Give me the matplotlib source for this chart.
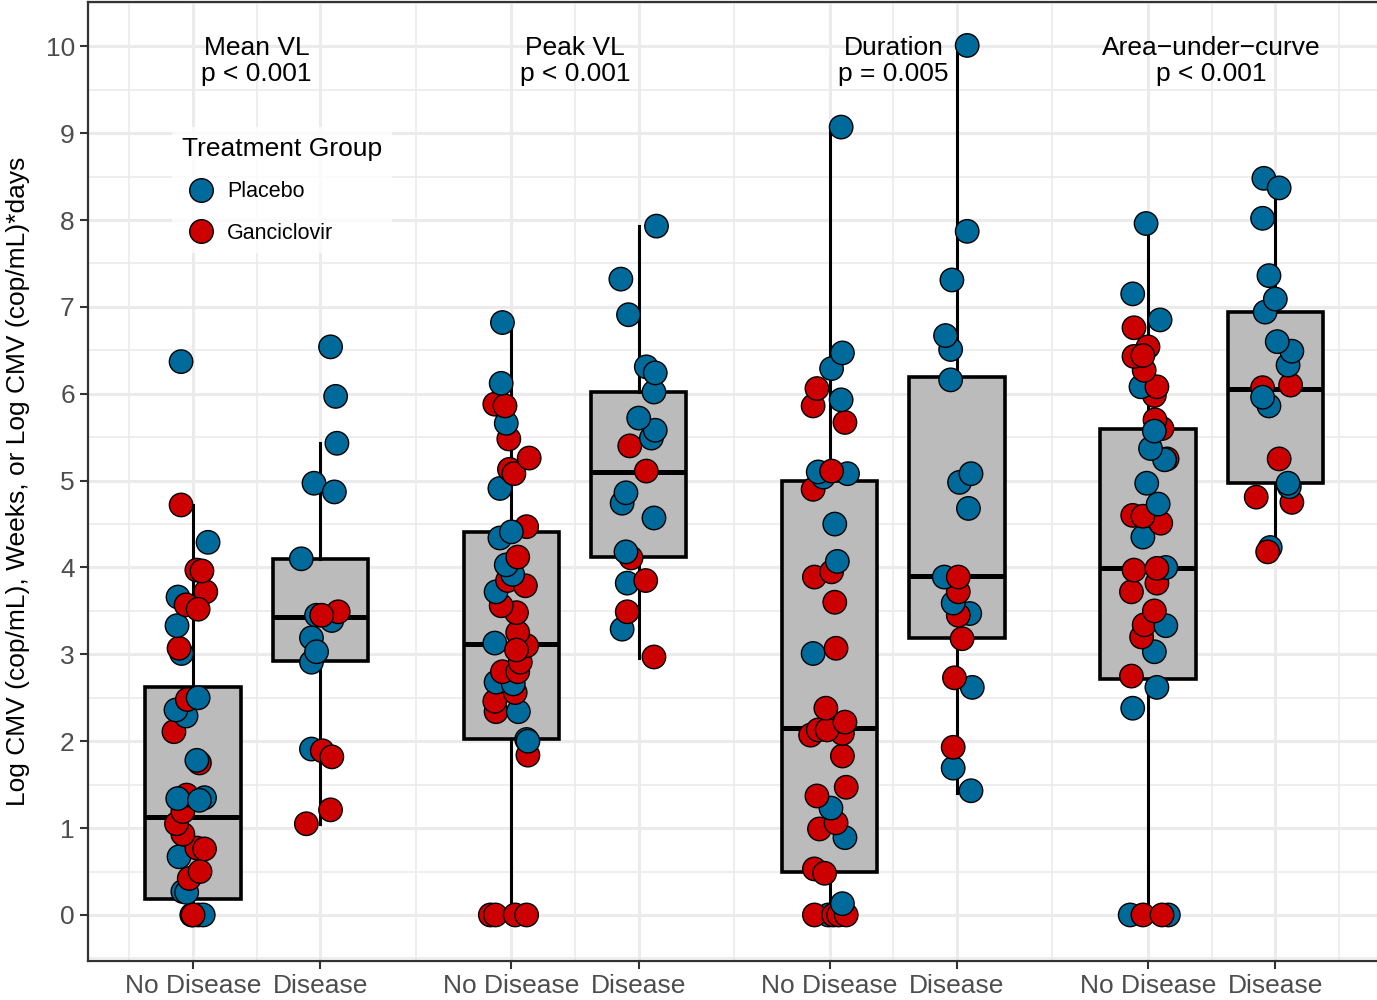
import matplotlib.pyplot as plt
from matplotlib.lines import Line2D

plt.rcParams['font.family'] = ['Liberation Sans', 'DejaVu Sans']

# each measure has a No Disease / Disease pair of boxes
positions = [1, 2, 3.5, 4.5, 6, 7, 8.5, 9.5]
tick_labels = ['No Disease', 'Disease'] * 4
measure_x = [1.5, 4.0, 6.5, 9.0]
measure_titles = ['Mean VL\np < 0.001', 'Peak VL\np < 0.001',
                  'Duration\np = 0.005', 'Area\u2212under\u2212curve\np < 0.001']

# box summaries (Q1, median, Q3, whisker ends)
box_q1 = [0.18, 2.92, 2.02, 4.12, 0.49, 3.19, 2.72, 4.97]
box_med = [1.13, 3.43, 3.12, 5.10, 2.15, 3.90, 3.99, 6.05]
box_q3 = [2.62, 4.10, 4.41, 6.02, 4.99, 6.19, 5.59, 6.94]
whisk_lo = [0.0, 1.05, 0.0, 2.96, 0.0, 1.40, 0.0, 4.18]
whisk_hi = [4.72, 5.43, 6.82, 7.93, 9.08, 10.01, 7.96, 8.37]

# individual subjects: value, horizontal jitter, treatment (P = placebo, G = ganciclovir)
mean_nd_val = [0, 0, 0, 0, 0.27, 0.26, 0.42, 0.50, 0.67, 0.77, 0.76,
               0.93, 1.05, 1.19, 1.38, 1.34, 1.35, 1.32, 1.75, 1.78,
               2.11, 2.29, 2.36, 2.48, 2.50, 3.01, 3.07, 3.33,
               3.66, 3.57, 3.72, 3.52, 3.97, 3.96, 4.29, 4.72, 6.37]
mean_nd_jit = [-0.01, 0.04, 0.08, 0.0, -0.08, -0.05, -0.03, 0.055, -0.11, 0.03, 0.09,
               -0.08, -0.13, -0.08, -0.05, -0.12, 0.09, 0.05, 0.05, 0.03,
               -0.15, -0.055, -0.134, -0.045, 0.04, -0.09, -0.11, -0.126,
               -0.118, -0.055, 0.10, 0.04, 0.03, 0.07, 0.118, -0.094, -0.094]
mean_nd_trt = 'PPPGPPGGPGG' 'GGGGPPPGP' 'GPPGPPGP' 'PGGGGGPGP'

mean_d_val = [6.54, 5.97, 5.43, 4.97, 4.87, 4.10, 3.45, 3.39, 3.49, 3.45,
              3.19, 2.91, 3.03, 1.91, 1.89, 1.82, 1.21, 1.05]
mean_d_jit = [0.08, 0.12, 0.13, -0.05, 0.11, -0.15, -0.03, 0.09, 0.14, 0.01,
              -0.07, -0.07, -0.03, -0.07, 0.015, 0.09, 0.08, -0.11]
mean_d_trt = 'PPPPPPPPGG' 'PPPPGGGG'

peak_nd_val = [0, 0, 0, 0, 1.84, 2.02, 2.00, 2.34, 2.34, 2.46,
               2.56, 2.68, 2.66, 2.80, 2.80, 2.91, 3.10, 3.13, 3.25, 3.05,
               3.48, 3.56, 3.72, 3.85, 3.79, 3.92, 4.03, 4.12,
               4.34, 4.47, 4.41, 4.91, 5.13, 5.08, 5.26,
               5.48, 5.66, 5.88, 5.86, 6.12, 6.82]
peak_nd_jit = [-0.165, -0.125, 0.03, 0.12, 0.13, 0.12, 0.13, -0.12, 0.055, -0.13,
               0.03, -0.12, 0.015, -0.07, 0.05, 0.07, 0.12, -0.13, 0.05, 0.04,
               0.04, -0.08, -0.12, -0.03, 0.11, 0.01, -0.04, 0.05,
               -0.09, 0.12, 0.0, -0.09, -0.015, 0.02, 0.14,
               -0.02, -0.04, -0.13, -0.05, -0.08, -0.07]
peak_nd_trt = 'GGGGGPPGPG' 'GPPGGGGPGG' 'GGPGGPPG' 'PGPPGGG' 'GPGGPP'

peak_d_val = [2.97, 3.29, 3.49, 3.82, 3.85, 4.11, 4.18, 4.57, 4.74, 4.86,
              5.11, 5.40, 5.49, 5.58, 5.72, 6.02, 6.31, 6.24, 6.91, 7.32, 7.93]
peak_d_jit = [0.12, -0.13, -0.09, -0.09, 0.055, -0.06, -0.1, 0.12, -0.13, -0.1,
              0.06, -0.07, 0.1, 0.13, 0.0, 0.12, 0.06, 0.13, -0.08, -0.14, 0.14]
peak_d_trt = 'GPGPGGPPPP' 'GGPPPPPPPPP'

dur_nd_val = [0, 0, 0, 0, 0, 0.13, 0.53, 0.48,
              0.89, 0.99, 1.06, 1.23, 1.37, 1.47, 1.83,
              2.07, 2.09, 2.13, 2.13, 2.22, 2.38,
              3.01, 3.07, 3.60, 3.89, 3.95, 4.07, 4.50,
              4.90, 5.04, 5.10, 5.08, 5.11,
              5.67, 5.86, 5.93, 6.06, 6.29, 6.47, 9.07]
dur_nd_jit = [-0.01, -0.12, 0.03, 0.07, 0.13, 0.1, -0.12, -0.04,
              0.12, -0.08, 0.05, 0.01, -0.1, 0.13, 0.1,
              -0.15, 0.1, -0.09, -0.02, 0.12, -0.03,
              -0.13, 0.05, 0.04, -0.12, 0.015, 0.06, 0.04,
              -0.13, -0.05, -0.09, 0.14, 0.015,
              0.12, -0.13, 0.09, -0.1, 0.015, 0.1, 0.09]
dur_nd_trt = 'PGGGGPGG' 'PGGPGGG' 'GGGGGG' 'PGGGGPP' 'GPPPG' 'GGPGPPP'

dur_d_val = [1.43, 1.69, 1.93, 2.62, 2.73, 3.18, 3.47, 3.45, 3.59, 3.72,
             3.89, 3.89, 4.68, 4.98, 5.08, 6.16, 6.51, 6.67, 7.31, 7.87, 10.01]
dur_d_jit = [0.11, -0.03, -0.03, 0.12, -0.02, 0.04, 0.1, 0.01, -0.03, 0.01,
             -0.1, 0.01, 0.09, 0.02, 0.11, -0.05, -0.05, -0.09, -0.04, 0.08, 0.08]
dur_d_trt = 'PPGPGGPGPG' 'PGPPPPPPPPP'

auc_nd_val = [0, 0, 0, 0,
              2.38, 2.62, 2.75, 3.03,
              3.20, 3.34, 3.33, 3.50,
              3.72, 3.82, 4.00, 3.97, 3.99,
              4.35, 4.51, 4.60, 4.59, 4.73, 4.97,
              5.25, 5.24, 5.37, 5.60, 5.70, 5.57,
              5.98, 6.08, 6.08, 6.27,
              6.43, 6.54, 6.44, 6.76, 6.85, 7.15, 7.96]
auc_nd_jit = [-0.14, 0.16, -0.04, 0.11,
              -0.12, 0.07, -0.13, 0.05,
              -0.05, -0.03, 0.14, 0.05,
              -0.13, 0.07, 0.14, -0.11, 0.07,
              -0.04, 0.1, -0.12, -0.04, 0.08, -0.01,
              0.15, 0.13, 0.02, 0.11, 0.055, 0.05,
              0.05, -0.055, 0.07, -0.03,
              -0.11, 0.0, -0.04, -0.11, 0.095, -0.12, -0.015]
auc_nd_trt = 'PPGG' 'PPGP' 'GGPG' 'GGPGG' 'PGGGPP' 'GPPGGP' 'GPGG' 'GGGGPPP'

auc_d_val = [4.23, 4.18, 4.75, 4.93, 4.97, 4.81, 5.25, 5.86, 6.07, 5.96,
             6.10, 6.33, 6.49, 6.60, 6.94, 7.09, 7.36, 8.02, 8.48, 8.37]
auc_d_jit = [-0.04, -0.06, 0.13, 0.11, 0.1, -0.15, 0.03, -0.05, -0.1, -0.1,
             0.12, 0.1, 0.13, 0.015, -0.08, 0.0, -0.05, -0.1, -0.09, 0.03]
auc_d_trt = 'PGGPPGGPGP' 'GPPPPPPPPP'

groups = [
    (mean_nd_val, mean_nd_jit, mean_nd_trt), (mean_d_val, mean_d_jit, mean_d_trt),
    (peak_nd_val, peak_nd_jit, peak_nd_trt), (peak_d_val, peak_d_jit, peak_d_trt),
    (dur_nd_val, dur_nd_jit, dur_nd_trt), (dur_d_val, dur_d_jit, dur_d_trt),
    (auc_nd_val, auc_nd_jit, auc_nd_trt), (auc_d_val, auc_d_jit, auc_d_trt),
]

trt_colors = {'P': '#006B9A', 'G': '#CC0000'}
trt_names = {'P': 'Placebo', 'G': 'Ganciclovir'}

fig = plt.figure(figsize=(13.77, 10), dpi=100)
ax = fig.add_axes([88 / 1377, 39 / 1000, 1293 / 1377, 959 / 1000])
ax.set_xlim(0.175, 10.33)
ax.set_ylim(-0.53, 10.51)

stats = []
for i in range(len(positions)):
    stats.append({'q1': box_q1[i], 'med': box_med[i], 'q3': box_q3[i],
                  'whislo': whisk_lo[i], 'whishi': whisk_hi[i], 'fliers': []})
ax.bxp(stats, positions=positions, widths=0.75, patch_artist=True,
       showfliers=False, showcaps=False, manage_ticks=False,
       boxprops=dict(facecolor='#BBBBBB', edgecolor='black', linewidth=2.6),
       medianprops=dict(color='black', linewidth=3.6),
       whiskerprops=dict(color='black', linewidth=2.2))

for pos, (vals, jit, trt) in zip(positions, groups):
    xs = [pos + j for j in jit]
    cols = [trt_colors[t] for t in trt]
    ax.scatter(xs, vals, s=285, c=cols, edgecolors='black', linewidths=1.0, zorder=3)

# grid, theme_bw style
ax.set_xticks(positions)
ax.set_xticklabels(tick_labels)
ax.set_xticks([0.5, 1.5, 2.75, 4.0, 5.25, 6.5, 7.75, 9.0, 10.0], minor=True)
ax.set_yticks(range(0, 11))
ax.set_yticks([y + 0.5 for y in range(-1, 11)], minor=True)
ax.grid(which='major', color='#EBEBEB', linewidth=2.2, zorder=0)
ax.grid(which='minor', color='#EBEBEB', linewidth=1.2, zorder=0)
ax.set_axisbelow(True)
ax.tick_params(axis='both', which='major', labelsize=19, labelcolor='#4D4D4D',
               color='#333333', width=1.5, length=6)
ax.tick_params(which='minor', length=0)
for side in ['left', 'bottom', 'top', 'right']:
    ax.spines[side].set_color('#333333')
    ax.spines[side].set_linewidth(1.6)

for x, title in zip(measure_x, measure_titles):
    ax.text(x, 9.83, title, ha='center', va='center', fontsize=19, linespacing=1.12)

ax.set_ylabel('Log CMV (cop/mL), Weeks, or Log CMV (cop/mL)*days', fontsize=19)
ax.yaxis.set_label_coords(-0.045, 0.5)

handles = [Line2D([], [], marker='o', linestyle='', markersize=17,
                  markerfacecolor=trt_colors[k], markeredgecolor='black',
                  markeredgewidth=1.0, label=trt_names[k]) for k in ['P', 'G']]
leg = ax.legend(handles=handles, title='Treatment Group', loc='upper left',
                bbox_to_anchor=(0.0569, 0.8808), fontsize=15.5, title_fontsize=19,
                frameon=True, fancybox=False, borderpad=0.45, handlelength=1.8,
                handletextpad=0.3, labelspacing=0.95, alignment='left')
leg.get_frame().set_facecolor('white')
leg.get_frame().set_edgecolor('white')
leg.get_frame().set_linewidth(0)

fig.savefig('out.png', dpi=100)
